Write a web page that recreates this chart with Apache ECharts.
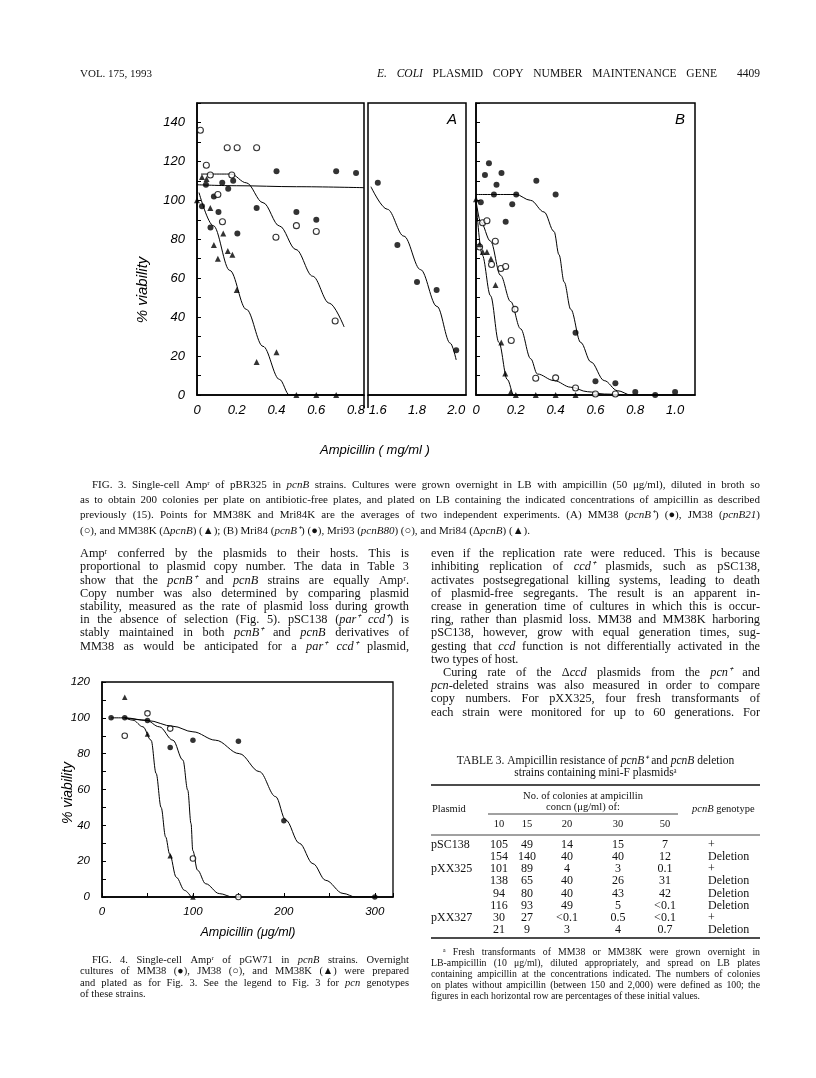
<!DOCTYPE html>
<html>
<head>
<meta charset="utf-8">
<script src="https://cdn.jsdelivr.net/npm/echarts@6/dist/echarts.min.js"></script>
<style>
html,body{margin:0;padding:0;background:#fff}
#page{width:816px;height:1078px}
</style>
</head>
<body>
<div id="page"></div>
<script>
// ---------- data ----------
// Fig. 3A, x = ampicillin (mg/ml), y = % viability
var fig3A_MM38 = [[0.025,97],[0.045,108],[0.068,86],[0.085,102],[0.108,94],[0.127,109],[0.157,106],[0.182,110],[0.203,83],[0.3,96],[0.4,115],[0.5,94],[0.6,90],[0.7,115],[0.8,114],[1.6,109],[1.7,77],[1.8,58],[1.9,54],[2.0,23]];
var fig3A_JM38 = [[0.017,136],[0.047,118],[0.067,113],[0.105,103],[0.128,89],[0.152,127],[0.175,113],[0.202,127],[0.3,127],[0.397,81],[0.5,87],[0.6,84],[0.695,38]];
var fig3A_MM38K = [[0,100],[0.025,112],[0.048,111],[0.067,96],[0.085,77],[0.105,70],[0.132,83],[0.155,74],[0.178,72],[0.2,54],[0.3,17],[0.4,22],[0.5,0],[0.6,0],[0.7,0]];
// hand drawn curves of fig 3A
var fit3A_MM38 = [[0,108],[0.2,107.5],[0.5,107],[0.84,106.5],[1.565,107],[1.649,95.4],[1.733,81.6],[1.818,64.4],[1.902,45.5],[1.97,26.6],[2.0,18]];
var fit3A_JM38 = [[0.02,113.5],[0.17,113.5],[0.248,109],[0.332,98.8],[0.415,86.8],[0.498,74.7],[0.582,61],[0.665,47.2],[0.74,35]];
var fit3A_MM38K = [[0.01,104],[0.082,87],[0.165,64],[0.248,44],[0.332,25],[0.415,8],[0.465,0],[0.84,0]];

// Fig. 3B
var fig3B_Mri84 = [[0.024,99],[0.045,113],[0.065,119],[0.09,103],[0.103,108],[0.128,114],[0.149,89],[0.182,98],[0.202,103],[0.303,110],[0.4,103],[0.5,32],[0.6,7],[0.7,6],[0.8,1.5],[0.9,0],[1.0,1.5]];
var fig3B_Mri93 = [[0.018,76],[0.033,88.5],[0.055,89.5],[0.078,67],[0.097,79],[0.125,65],[0.149,66],[0.177,28],[0.196,44],[0.3,8.6],[0.4,8.8],[0.5,3.6],[0.6,0.5],[0.7,0.5]];
var fig3B_Mri84d = [[0,100.5],[0.018,77.5],[0.034,73.5],[0.055,73.5],[0.075,70],[0.098,56.5],[0.127,27],[0.147,11],[0.174,1.4],[0.2,0],[0.3,0],[0.4,0],[0.5,0]];
var fit3B_Mri84 = [[0,103],[0.2,103],[0.274,100],[0.342,94],[0.392,84],[0.417,72],[0.443,58],[0.476,44],[0.526,27],[0.577,17],[0.644,7.4],[0.711,2.2],[0.778,0],[1.0,0]];
var fit3B_Mri93 = [[0,100],[0.023,89],[0.073,79],[0.123,61.5],[0.174,48],[0.224,34],[0.275,18.6],[0.308,10.8],[0.392,7.4],[0.476,4],[0.56,1.7],[0.644,0.5],[0.745,0]];
var fit3B_Mri84d = [[0,100],[0.031,72],[0.073,51],[0.115,27],[0.157,8],[0.19,0],[0.5,0]];

// Fig. 4, x = ampicillin (ug/ml)
var fig4_MM38 = [[10,100],[25,100],[50,98.5],[75,83.5],[100,87.5],[150,87],[200,42.5],[300,0]];
var fig4_JM38 = [[25,90],[50,102.5],[75,94],[100,21.5],[150,0]];
var fig4_MM38K = [[25,111.5],[50,91],[75,23],[100,0]];
var fit4_MM38 = [[10,100],[25,100],[50,98.5],[78,95.3],[100,92.2],[125,87.5],[151,80],[173,70],[191,56],[202,43],[217,30],[232,18.6],[246,9.3],[265,2],[279,0],[300,0]];
var fit4_JM38 = [[25,100],[48.5,98.7],[63,95],[78,87.5],[89,76.4],[94.3,59.6],[97.9,41],[99.8,26],[105,15],[114,7.4],[129,1.9],[144,0],[150,0]];
var fit4_MM38K = [[25,100],[34,98.7],[45,95],[54,87.5],[59.5,69],[65,50],[70,33.5],[74.4,24],[81.7,11],[90.8,3.7],[98,0]];

// Table 3
var t3Conc = ['10','15','20','30','50'];
var t3Plasmid = ['pSC138','','pXX325','','','','pXX327',''];
var t3Rows = [['105','49','14','15','7'],['154','140','40','40','12'],['101','89','4','3','0.1'],['138','65','40','26','31'],['94','80','40','43','42'],['116','93','49','5','<0.1'],['30','27','<0.1','0.5','<0.1'],['21','9','3','4','0.7']];
var t3Geno = ['+','Deletion','+','Deletion','Deletion','Deletion','+','Deletion'];

// ---------- page text ----------
var SERIF = "'Liberation Serif', serif";
var SANS = "'Liberation Sans', sans-serif";
var gfx = [];
var mctx = document.createElement('canvas').getContext('2d');

function parseWord(w){
  var out = [], re = /\{(\w+)\|([^}]*)\}|([^{]+)/g, m;
  while ((m = re.exec(w))) out.push(m[1] ? {k:m[1], t:m[2]} : {k:null, t:m[3]});
  return out;
}
function wordWidth(w, size, fam){
  return parseWord(w).reduce(function(s, p){
    mctx.font = (p.k === 'i' ? 'italic ' : '') + size + 'px ' + fam;
    return s + mctx.measureText(p.t).width;
  }, 0);
}
function textEl(x, y, str, size, fam, extra){
  var st = {text:str, fontSize:size, fontFamily:fam, fill:'#111', align:'left', verticalAlign:'middle',
    rich:{i:{fontStyle:'italic', fontSize:size, fontFamily:fam}}};
  for (var k in (extra||{})) st[k] = extra[k];
  return {type:'text', x:x, y:y, silent:true, style:st};
}
// one line: mode 'justify' | 'left' | 'center' | 'right'
function setLine(x, y, width, size, fam, str, mode){
  var words = str.split(' ').filter(function(s){return s.length;});
  var ws = words.map(function(w){return wordWidth(w, size, fam);});
  var sum = ws.reduce(function(a,b){return a+b;}, 0);
  var gap = size * 0.25, x0 = x;
  if (mode === 'justify' && words.length > 1) gap = Math.max((width - sum) / (words.length - 1), size * 0.12);
  else if (mode === 'center') x0 = x + (width - sum - gap * (words.length - 1)) / 2;
  else if (mode === 'right') x0 = x + width - sum - gap * (words.length - 1);
  words.forEach(function(w, i){ gfx.push(textEl(x0, y, w, size, fam)); x0 += ws[i] + gap; });
}
// '>' at start = indent, '~' at end = last line (not justified)
function para(x, y, lh, width, size, fam, lines, indent){
  lines.forEach(function(ln, i){
    var ind = 0, mode = 'justify';
    if (ln.charAt(0) === '>') { ind = indent; ln = ln.slice(1); }
    if (ln.charAt(ln.length-1) === '~') { mode = 'left'; ln = ln.slice(0, -1); }
    setLine(x + ind, y + i * lh, width - ind, size, fam, ln, mode);
  });
}

// running head
setLine(80, 74, 100, 11, SERIF, 'VOL. 175, 1993', 'left');
setLine(377, 74, 340, 11.5, SERIF, '{i|E.} {i|COLI} PLASMID COPY NUMBER MAINTENANCE GENE', 'justify');
setLine(700, 74, 60, 11.5, SERIF, '4409', 'right');

// figure 3 caption
para(80, 485, 15.3, 680, 11, SERIF, [
  '>FIG. 3. Single-cell Ampʳ of pBR325 in {i|pcnB} strains. Cultures were grown overnight in LB with ampicillin (50 μg/ml), diluted in broth so',
  'as to obtain 200 colonies per plate on antibiotic-free plates, and plated on LB containing the indicated concentrations of ampicillin as described',
  'previously (15). Points for MM38K and Mri84K are the averages of two independent experiments. (A) MM38 ({i|pcnB⁺}) (●), JM38 ({i|pcnB21})',
  '(○), and MM38K (Δ{i|pcnB}) (▲); (B) Mri84 ({i|pcnB⁺}) (●), Mri93 ({i|pcnB80}) (○), and Mri84 (Δ{i|pcnB}) (▲).~'
], 12);

// left column
para(80, 554, 13.2, 329, 12.3, SERIF, [
  'Ampʳ conferred by the plasmids to their hosts. This is',
  'proportional to plasmid copy number. The data in Table 3',
  'show that the {i|pcnB⁺} and {i|pcnB} strains are equally Ampʳ.',
  'Copy number was also determined by comparing plasmid',
  'stability, measured as the rate of plasmid loss during growth',
  'in the absence of selection (Fig. 5). pSC138 ({i|par⁺} {i|ccd⁺}) is',
  'stably maintained in both {i|pcnB⁺} and {i|pcnB} derivatives of',
  'MM38 as would be anticipated for a {i|par⁺} {i|ccd⁺} plasmid,'
], 12);

// right column
para(431, 554, 13.2, 329, 12.3, SERIF, [
  'even if the replication rate were reduced. This is because',
  'inhibiting replication of {i|ccd⁺} plasmids, such as pSC138,',
  'activates postsegregational killing systems, leading to death',
  'of plasmid-free segregants. The result is an apparent in-',
  'crease in generation time of cultures in which this is occur-',
  'ring, rather than plasmid loss. MM38 and MM38K harboring',
  'pSC138, however, grow with equal generation times, sug-',
  'gesting that {i|ccd} function is not differentially activated in the',
  'two types of host.~',
  '>Curing rate of the Δ{i|ccd} plasmids from the {i|pcn⁺} and',
  '{i|pcn}-deleted strains was also measured in order to compare',
  'copy numbers. For pXX325, four fresh transformants of',
  'each strain were monitored for up to 60 generations. For'
], 12);

// figure 4 caption
para(80, 960, 11.4, 329, 10.5, SERIF, [
  '>FIG. 4. Single-cell Ampʳ of pGW71 in {i|pcnB} strains. Overnight',
  'cultures of MM38 (●), JM38 (○), and MM38K (▲) were prepared',
  'and plated as for Fig. 3. See the legend to Fig. 3 for {i|pcn} genotypes',
  'of these strains.~'
], 12);

// table 3
setLine(431, 761, 329, 11.5, SERIF, 'TABLE 3. Ampicillin resistance of {i|pcnB⁺} and {i|pcnB} deletion', 'center');
setLine(431, 773, 329, 11.5, SERIF, 'strains containing mini-F plasmidsᵃ', 'center');
function rule(x1, x2, y, w){
  gfx.push({type:'line', silent:true, shape:{x1:x1, y1:y, x2:x2, y2:y}, style:{stroke:'#111', lineWidth:w}});
}
rule(431, 760, 785, 1.6);
rule(488, 678, 814, 0.8);
rule(431, 760, 835, 0.8);
rule(431, 760, 938, 1.6);
setLine(488, 796, 190, 10.5, SERIF, 'No. of colonies at ampicillin', 'center');
setLine(488, 807, 190, 10.5, SERIF, 'concn (μg/ml) of:', 'center');
setLine(432, 809, 60, 10.5, SERIF, 'Plasmid', 'left');
setLine(692, 809, 70, 10.5, SERIF, '{i|pcnB} genotype', 'left');
var colX = [499, 527, 567, 618, 665];
t3Conc.forEach(function(c, j){ gfx.push(textEl(colX[j], 824, c, 10.5, SERIF, {align:'center'})); });
t3Rows.forEach(function(row, i){
  var y = 845 + i * 12.1;
  if (t3Plasmid[i]) gfx.push(textEl(431, y, t3Plasmid[i], 12, SERIF));
  row.forEach(function(v, j){ gfx.push(textEl(colX[j], y, v, 12, SERIF, {align:'center'})); });
  gfx.push(textEl(708, y, t3Geno[i], 12, SERIF));
});
para(431, 952, 11, 329, 9.8, SERIF, [
  '>ᵃ Fresh transformants of MM38 or MM38K were grown overnight in',
  'LB-ampicillin (10 μg/ml), diluted appropriately, and spread on LB plates',
  'containing ampicillin at the concentrations indicated. The numbers of colonies',
  'on plates without ampicillin (between 150 and 2,000) were defined as 100; the',
  'figures in each horizontal row are percentages of these initial values.~'
], 12);

// chart labels
var lab = {fontFamily:SANS, fontStyle:'italic', fill:'#000', align:'center', verticalAlign:'middle'};
function label(x, y, str, size, rot){
  var st = {text:str, fontSize:size};
  for (var k in lab) st[k] = lab[k];
  gfx.push({type:'text', x:x, y:y, rotation:rot||0, silent:true, style:st});
}
label(143, 290, '% viability', 15, Math.PI/2);
label(375, 450, 'Ampicillin ( mg/ml )', 13);
label(452, 120, 'A', 15);
label(680, 120, 'B', 15);
label(68, 793, '% viability', 14, Math.PI/2);
label(248, 933, 'Ampicillin (μg/ml)', 12.5);
// the double rule of the broken axis runs a little below the frame
gfx.push({type:'line', silent:true, shape:{x1:364, y1:395, x2:364, y2:408}, style:{stroke:'#000', lineWidth:1.5}});
gfx.push({type:'line', silent:true, shape:{x1:368, y1:395, x2:368, y2:408}, style:{stroke:'#000', lineWidth:1.5}});

// ---------- charts ----------
function fmtTenth(v){
  var r = Math.round(v * 100);
  if (r % 20 !== 0) return '';
  return r === 0 ? '0' : (r / 100).toFixed(1);
}
function xAx(grid, min, max, iv, fmt, fs, tick){
  return {gridIndex:grid, type:'value', min:min, max:max, interval:iv,
    axisLine:{lineStyle:{color:'#000', width:1.5}},
    axisTick:{show:!!tick, inside:true, length:4, lineStyle:{color:'#000', width:1}},
    splitLine:{show:false},
    axisLabel:{formatter:fmt, fontFamily:SANS, fontStyle:'italic', fontSize:fs, color:'#000', margin:9}};
}
function yAx(grid, max, fmt, fs){
  return {gridIndex:grid, type:'value', min:0, max:max, interval:10,
    axisLine:{lineStyle:{color:'#000', width:1.5}},
    axisTick:{show:true, inside:true, length:4, lineStyle:{color:'#000', width:1}},
    splitLine:{show:false},
    axisLabel:{show:!!fmt, formatter:fmt, fontFamily:SANS, fontStyle:'italic', fontSize:fs, color:'#000', margin:12}};
}
var dot = {symbol:'circle', symbolSize:6, itemStyle:{color:'#000'}};
var ring = {symbol:'circle', symbolSize:6, itemStyle:{color:'#fff', borderColor:'#000', borderWidth:1.1}};
var tri = {symbol:'triangle', symbolSize:6, itemStyle:{color:'#000'}};
function pts(ax, data, look, size){
  return {type:'scatter', xAxisIndex:ax, yAxisIndex:ax, data:data, symbol:look.symbol,
    symbolSize:size || look.symbolSize, itemStyle:look.itemStyle, z:4, silent:true};
}
function fit(ax, data){
  return {type:'line', xAxisIndex:ax, yAxisIndex:ax, data:data, smooth:0.35, smoothMonotone:'x',
    showSymbol:false, symbol:'none', lineStyle:{color:'#000', width:1}, z:3, silent:true};
}
function lo(d){ return d.filter(function(p){return p[0] <= 0.84;}); }
function hi(d){ return d.filter(function(p){return p[0] >= 1.55;}); }

var chart = echarts.init(document.getElementById('page'), null, {renderer:'canvas'});
chart.setOption({
  animation:false,
  backgroundColor:'#fff',
  grid:[
    {left:197, top:103, width:167, height:292, show:true, borderColor:'#000', borderWidth:1.5, containLabel:false, outerBoundsMode:'none'},
    {left:368, top:103, width:98, height:292, show:true, borderColor:'#000', borderWidth:1.5, containLabel:false, outerBoundsMode:'none'},
    {left:476, top:103, width:219, height:292, show:true, borderColor:'#000', borderWidth:1.5, containLabel:false, outerBoundsMode:'none'},
    {left:102, top:682, width:291, height:215, show:true, borderColor:'#000', borderWidth:1.3, containLabel:false, outerBoundsMode:'none'}
  ],
  xAxis:[
    xAx(0, 0, 0.84, 0.2, fmtTenth, 13, false),
    xAx(1, 1.55, 2.05, 0.05, fmtTenth, 13, false),
    xAx(2, 0, 1.1, 0.2, fmtTenth, 13, false),
    xAx(3, 0, 320, 50, function(v){ return v % 100 === 0 ? String(v) : ''; }, 11.5, true)
  ],
  yAxis:[
    yAx(0, 150, function(v){ return (v % 20 === 0 && v <= 140) ? String(v) : ''; }, 13),
    {gridIndex:1, type:'value', min:0, max:150, show:false},
    yAx(2, 150, null, 13),
    yAx(3, 120, function(v){ return v % 20 === 0 ? String(v) : ''; }, 11.5)
  ],
  series:[
    fit(0, lo(fit3A_MM38)), fit(1, hi(fit3A_MM38)), fit(0, fit3A_JM38), fit(0, fit3A_MM38K),
    pts(0, lo(fig3A_MM38), dot), pts(1, hi(fig3A_MM38), dot), pts(0, fig3A_JM38, ring), pts(0, fig3A_MM38K, tri),
    fit(2, fit3B_Mri84), fit(2, fit3B_Mri93), fit(2, fit3B_Mri84d),
    pts(2, fig3B_Mri84, dot), pts(2, fig3B_Mri93, ring), pts(2, fig3B_Mri84d, tri),
    fit(3, fit4_MM38), fit(3, fit4_JM38), fit(3, fit4_MM38K),
    pts(3, fig4_MM38, dot, 5.5), pts(3, fig4_JM38, ring, 5.5), pts(3, fig4_MM38K, tri, 5.5)
  ],
  graphic:{elements:gfx}
});
</script>
</body>
</html>
